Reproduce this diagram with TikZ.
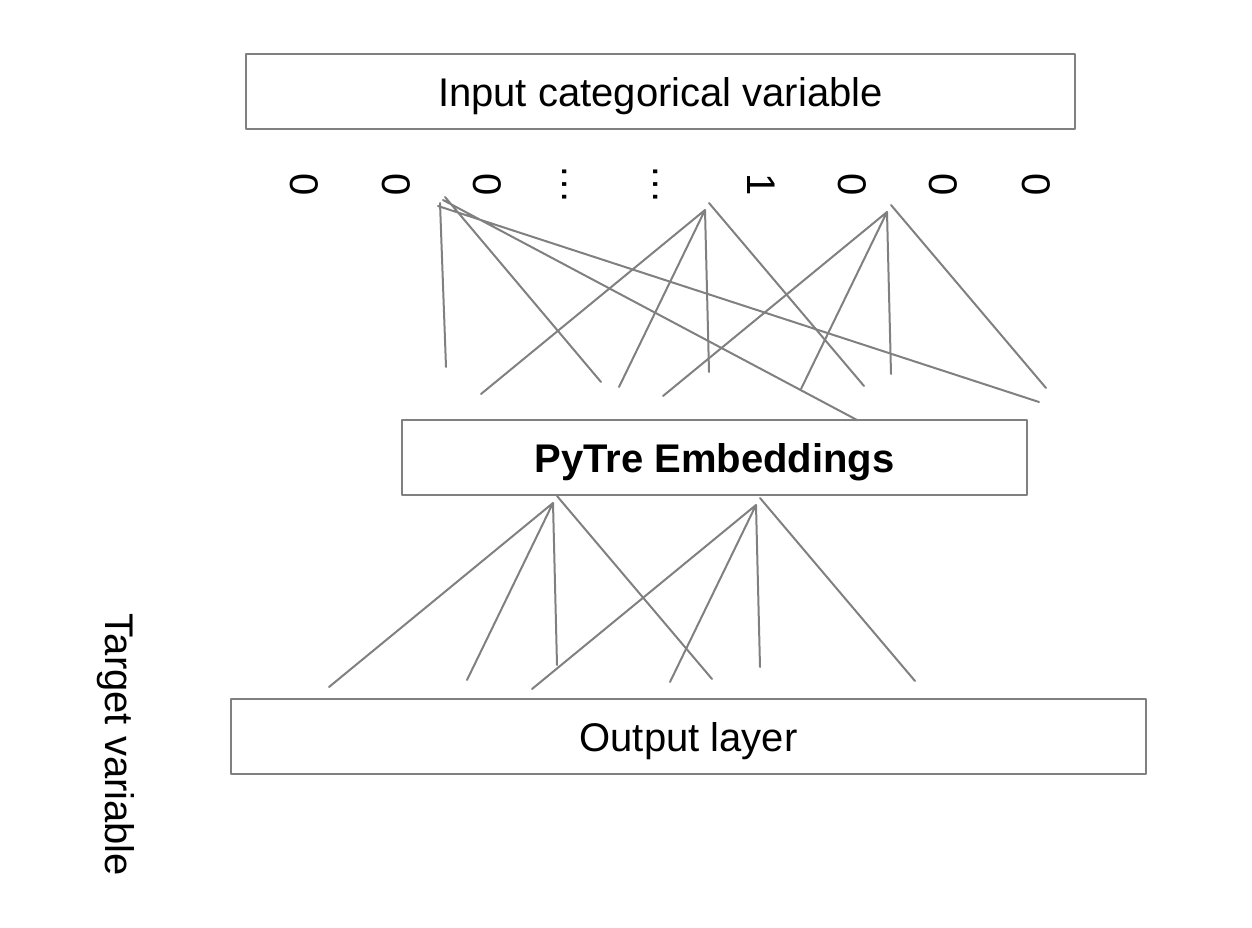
\documentclass[tikz,border=0pt]{standalone}
\usepackage{fontspec}
\setmainfont{Liberation Sans}
\begin{document}
\begin{tikzpicture}[x=1pt,y=-1pt,line join=round,line cap=round,font=\fontsize{40}{48}\selectfont,
	layer/.style={draw=gray,line width=2pt,minimum height=75pt,inner sep=0pt,text height=30pt,text depth=0pt},
	link/.style={draw=gray,line width=2pt}]
	\useasboundingbox (0,0) rectangle (1252,928);
	\node[layer,minimum width=829pt] (input) at (660.5,91.5) {Input categorical variable};
	\node[layer,minimum width=625pt] (embed) at (714.5,457.5) {\bfseries PyTre Embeddings};
	\node[layer,minimum width=915pt] (output) at (688.5,736.5) {Output layer};
	\node[rotate=-90] (target) at (116,745) {Target variable};
	\foreach \x/\d [count=\i] in {304/0,396/0,487/0,565/…,656/…,761/1,852/0,943/0,1036/0
	}{\node[rotate=-90] (d\i) at (\x,185) {\d};}
	% first fan
	\path (440,203) coordinate (a1) (446,367) coordinate (a1')
	(445,197) coordinate (a2) (601,382) coordinate (a2')
	(443,200) coordinate (a3) (857,420) coordinate (a3')
	(438,206) coordinate (a4) (1039,402) coordinate (a4');
	\draw[link] (a1)--(a1') (a2)--(a2') (a3)--(a3') (a4)--(a4');
	% the same fan, four times
	\foreach \n/\px/\py in {b/705/210,c/887/212,d/553/503,e/756/505}{
		\path (\px,\py) coordinate (\n)
		++(-224,184) coordinate (\n1)
		(\n) ++(-86,177) coordinate (\n2)
		(\n) ++(4,162) coordinate (\n3)
		(\n) ++(4,-7) coordinate (\n0)
		++(155,183) coordinate (\n4);
		\draw[link] (\n)--(\n1) (\n)--(\n2) (\n)--(\n3) (\n0)--(\n4);}
\end{tikzpicture}
\end{document}
